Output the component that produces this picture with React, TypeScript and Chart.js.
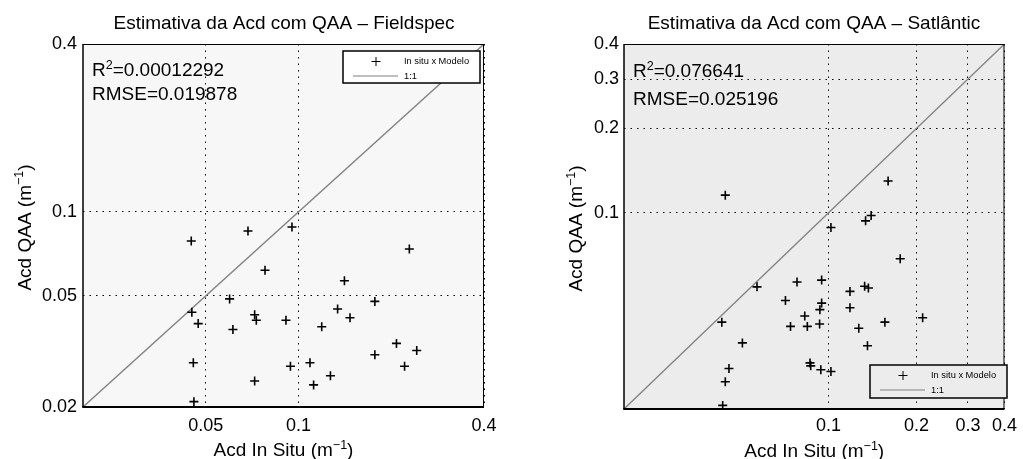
import React, { useEffect, useRef } from "react";
import { Chart, registerables } from "chart.js";

Chart.register(...registerables);

// ---------- Data ----------
const fieldspecInSitu = [
  0.0449, 0.0686, 0.0953, 0.229, 0.0779, 0.141, 0.0598, 0.177, 0.0451, 0.0473,
  0.0721, 0.073, 0.134, 0.147, 0.0911, 0.0613, 0.119, 0.208, 0.242, 0.177,
  0.221, 0.0456, 0.0942, 0.109, 0.127, 0.0721, 0.112, 0.0458,
];
const fieldspecQAA = [
  0.0787, 0.0855, 0.0883, 0.0737, 0.0618, 0.0567, 0.0488, 0.0478, 0.0437, 0.0398,
  0.0428, 0.0409, 0.0449, 0.0418, 0.0409, 0.0379, 0.0388, 0.0338, 0.0319, 0.0308,
  0.028, 0.0288, 0.028, 0.0288, 0.0259, 0.0248, 0.024, 0.0209,
];
const satlanticInSitu = [
  0.176, 0.057, 0.0781, 0.0948, 0.133, 0.137, 0.1185, 0.0713, 0.0948, 0.0935,
  0.1185, 0.083, 0.0432, 0.0742, 0.0847, 0.0933, 0.156, 0.21, 0.127, 0.0508,
  0.136, 0.0865, 0.087, 0.0942, 0.102, 0.0457, 0.0444, 0.0435, 0.0444, 0.16,
  0.134, 0.14, 0.102,
];
const satlanticQAA = [
  0.0686, 0.0545, 0.0567, 0.0576, 0.0548, 0.054, 0.0525, 0.0487, 0.0477, 0.0452,
  0.0459, 0.0429, 0.0408, 0.0394, 0.0394, 0.0402, 0.0408, 0.0423, 0.0388, 0.0344,
  0.0336, 0.0292, 0.0285, 0.0276, 0.0272, 0.0279, 0.025, 0.0206, 0.1157, 0.13,
  0.0937, 0.0979, 0.0887,
];
const oneToOneLine = [0.02, 0.4];
const axisRange = [0.02, 0.4];

const fieldspecXTicks = [0.05, 0.1, 0.4];
const fieldspecYTicks = [0.02, 0.05, 0.1, 0.4];
const satlanticXTicks = [0.1, 0.2, 0.3, 0.4];
const satlanticYTicks = [0.1, 0.2, 0.3, 0.4];

const fieldspecTitle = "Estimativa da Acd com QAA \u2013 Fieldspec";
const satlanticTitle = "Estimativa da Acd com QAA \u2013 Satl\u00e2ntic";
const xAxisLabel = "Acd In Situ (m";
const yAxisLabel = "Acd QAA (m";
const fieldspecR2 = "=0.00012292";
const fieldspecRMSE = "RMSE=0.019878";
const satlanticR2 = "=0.076641";
const satlanticRMSE = "RMSE=0.025196";
const legendLabels = ["In situ x Modelo", "1:1"];

const FONT = '"Liberation Sans", Arial, Helvetica, sans-serif';

type Part = { t: string; sup?: boolean };

function drawParts(
  ctx: CanvasRenderingContext2D,
  parts: Part[],
  x: number,
  y: number,
  align: "left" | "center",
  size: number,
  supSize: number,
  rise: number
) {
  ctx.textAlign = "left";
  ctx.textBaseline = "alphabetic";
  const widths = parts.map((p) => {
    ctx.font = `${p.sup ? supSize : size}px ${FONT}`;
    return ctx.measureText(p.t).width;
  });
  const total = widths.reduce((s, w) => s + w, 0);
  let cx = align === "center" ? x - total / 2 : x;
  parts.forEach((p, i) => {
    ctx.font = `${p.sup ? supSize : size}px ${FONT}`;
    ctx.fillText(p.t, cx, p.sup ? y - rise : y);
    cx += widths[i];
  });
}

type PanelCfg = {
  width: number;
  left: number;
  area: { left: number; top: number; right: number; bottom: number };
  bg: string;
  legendBg: string;
  title: string;
  titleX: number;
  xs: number[];
  ys: number[];
  xTicks: number[];
  yTicks: number[];
  xPad: number;
  yPad: number;
  yLabelX: number;
  xLabelY: number;
  r2: string;
  rmse: string;
  statsX: number;
  statsY1: number;
  statsY2: number;
  legend: { x: number; y: number; w: number; h: number };
};

const panels: PanelCfg[] = [
  {
    width: 512,
    left: 0,
    area: { left: 83, top: 44, right: 484, bottom: 407 },
    bg: "#f7f7f7",
    legendBg: "#ffffff",
    title: fieldspecTitle,
    titleX: 284,
    xs: fieldspecInSitu,
    ys: fieldspecQAA,
    xTicks: fieldspecXTicks,
    yTicks: fieldspecYTicks,
    xPad: 8,
    yPad: 6,
    yLabelX: 30.5,
    xLabelY: 456,
    r2: fieldspecR2,
    rmse: fieldspecRMSE,
    statsX: 92,
    statsY1: 76,
    statsY2: 100,
    legend: { x: 343, y: 51, w: 137, h: 32 },
  },
  {
    width: 511,
    left: 512,
    area: { left: 112, top: 44, right: 496, bottom: 409 },
    bg: "#ececec",
    legendBg: "#ececec",
    title: satlanticTitle,
    titleX: 302,
    xs: satlanticInSitu,
    ys: satlanticQAA,
    xTicks: satlanticXTicks,
    yTicks: satlanticYTicks,
    xPad: 6,
    yPad: 5,
    yLabelX: 70,
    xLabelY: 457,
    r2: satlanticR2,
    rmse: satlanticRMSE,
    statsX: 121,
    statsY1: 77,
    statsY2: 105,
    legend: { x: 358, y: 365, w: 137, h: 33 },
  },
];

function makePlugin(cfg: PanelCfg) {
  return {
    id: "panelDecor",
    beforeDraw(chart: any) {
      const { ctx, chartArea: a } = chart;
      ctx.save();
      ctx.fillStyle = cfg.bg;
      ctx.fillRect(a.left, a.top, a.right - a.left, a.bottom - a.top);
      ctx.restore();
    },
    afterDraw(chart: any) {
      const { ctx, chartArea: a } = chart;
      ctx.save();
      // box
      ctx.strokeStyle = "#000";
      ctx.lineWidth = 1;
      ctx.beginPath();
      ctx.moveTo(a.left, a.top + 0.5);
      ctx.lineTo(a.right, a.top + 0.5);
      ctx.moveTo(a.right - 0.5, a.top);
      ctx.lineTo(a.right - 0.5, a.bottom);
      ctx.stroke();
      ctx.lineWidth = 1.5;
      ctx.beginPath();
      ctx.moveTo(a.left, a.top);
      ctx.lineTo(a.left, a.bottom);
      ctx.stroke();
      ctx.lineWidth = 2;
      ctx.beginPath();
      ctx.moveTo(a.left - 0.75, a.bottom);
      ctx.lineTo(a.right, a.bottom);
      ctx.stroke();

      ctx.fillStyle = "#000";
      // title
      ctx.font = `19px ${FONT}`;
      ctx.textAlign = "center";
      ctx.textBaseline = "alphabetic";
      ctx.fillText(cfg.title, cfg.titleX, 29);

      // x label
      drawParts(
        ctx,
        [{ t: xAxisLabel }, { t: "\u22121", sup: true }, { t: ")" }],
        (a.left + a.right) / 2,
        cfg.xLabelY,
        "center",
        19,
        12.5,
        7.5
      );
      // y label
      ctx.save();
      ctx.translate(cfg.yLabelX, (a.top + a.bottom) / 2 + 2);
      ctx.rotate(-Math.PI / 2);
      drawParts(
        ctx,
        [{ t: yAxisLabel }, { t: "\u22121", sup: true }, { t: ")" }],
        0,
        0,
        "center",
        19,
        12.5,
        7.5
      );
      ctx.restore();

      // stats
      drawParts(ctx, [{ t: "R" }, { t: "2", sup: true }, { t: cfg.r2 }], cfg.statsX, cfg.statsY1, "left", 19, 12.5, 7.5);
      drawParts(ctx, [{ t: cfg.rmse }], cfg.statsX, cfg.statsY2, "left", 19, 12.5, 7.5);

      // legend
      const L = cfg.legend;
      ctx.fillStyle = cfg.legendBg;
      ctx.fillRect(L.x, L.y, L.w, L.h);
      ctx.strokeStyle = "#000";
      ctx.lineWidth = 1.5;
      ctx.strokeRect(L.x, L.y, L.w, L.h);
      // marker
      const my = L.y + 10.5;
      const mx = L.x + 33;
      ctx.lineWidth = 1;
      ctx.beginPath();
      ctx.moveTo(mx - 4.5, my);
      ctx.lineTo(mx + 4.5, my);
      ctx.moveTo(mx, my - 4.5);
      ctx.lineTo(mx, my + 4.5);
      ctx.stroke();
      // line
      const ly = L.y + 25;
      ctx.strokeStyle = "#808080";
      ctx.lineWidth = 1.2;
      ctx.beginPath();
      ctx.moveTo(L.x + 10, ly);
      ctx.lineTo(L.x + 55, ly);
      ctx.stroke();
      ctx.fillStyle = "#000";
      ctx.font = `9.3px ${FONT}`;
      ctx.textAlign = "left";
      ctx.textBaseline = "middle";
      ctx.fillText(legendLabels[0], L.x + 61, my);
      ctx.fillText(legendLabels[1], L.x + 61, ly);
      ctx.restore();
    },
  };
}

function Panel({ cfg }: { cfg: PanelCfg }) {
  const ref = useRef<HTMLCanvasElement | null>(null);
  useEffect(() => {
    if (!ref.current) return;
    const a = cfg.area;
    const points = cfg.xs.map((x, i) => ({ x, y: cfg.ys[i] }));
    const ref11 = oneToOneLine.map((v) => ({ x: v, y: v }));
    const tickFont = { family: FONT, size: 18 };
    const chart = new Chart(ref.current, {
      type: "scatter",
      data: {
        datasets: [
          {
            type: "scatter",
            label: legendLabels[0],
            data: points,
            pointStyle: "cross",
            pointRadius: 4.5,
            pointBorderWidth: 1.6,
            pointBorderColor: "#000",
            pointBackgroundColor: "#000",
            order: 1,
          } as any,
          {
            type: "line",
            label: legendLabels[1],
            data: ref11,
            borderColor: "#858585",
            borderWidth: 1.4,
            pointRadius: 0,
            fill: false,
            order: 2,
          } as any,
        ],
      },
      options: {
        animation: false,
        responsive: false,
        events: [],
        layout: {
          padding: { top: a.top, right: cfg.width - a.right, left: 0, bottom: 0 },
        },
        plugins: {
          legend: { display: false },
          title: { display: false },
          tooltip: { enabled: false },
        },
        scales: {
          x: {
            type: "logarithmic",
            position: "bottom",
            min: axisRange[0],
            max: axisRange[1],
            afterBuildTicks: (s: any) => {
              s.ticks = cfg.xTicks.map((v) => ({ value: v }));
            },
            afterFit: (s: any) => {
              s.height = 459 - a.bottom;
            },
            grid: { color: "#000", lineWidth: 1, drawTicks: false },
            border: { display: false, dash: [1.5, 5] },
            ticks: {
              color: "#000",
              font: tickFont,
              padding: cfg.xPad,
              autoSkip: false,
              maxRotation: 0,
              minRotation: 0,
              callback: (v: any) => String(v),
            },
          },
          y: {
            type: "logarithmic",
            position: "left",
            min: axisRange[0],
            max: axisRange[1],
            afterBuildTicks: (s: any) => {
              s.ticks = cfg.yTicks.map((v) => ({ value: v }));
            },
            afterFit: (s: any) => {
              s.width = a.left;
            },
            grid: { color: "#000", lineWidth: 1, drawTicks: false },
            border: { display: false, dash: [1.5, 5] },
            ticks: {
              color: "#000",
              font: tickFont,
              padding: cfg.yPad,
              autoSkip: false,
              callback: (v: any) => String(v),
            },
          },
        } as any,
      },
      plugins: [makePlugin(cfg)],
    } as any);
    return () => chart.destroy();
  }, [cfg]);
  return (
    <canvas
      ref={ref}
      width={cfg.width}
      height={459}
      style={{
        position: "absolute",
        left: cfg.left,
        top: 0,
        width: cfg.width,
        height: 459,
      }}
    />
  );
}

export default function App() {
  return (
    <div
      style={{
        position: "fixed",
        left: 0,
        top: 0,
        width: 1023,
        height: 459,
        background: "#fff",
        overflow: "hidden",
      }}
    >
      {panels.map((p, i) => (
        <Panel key={i} cfg={p} />
      ))}
    </div>
  );
}
